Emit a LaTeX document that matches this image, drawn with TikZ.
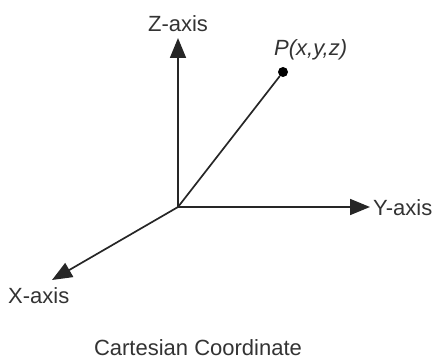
\documentclass[tikz,border=0pt]{standalone}
\usepackage{fontspec}
\setmainfont{Liberation Sans}
\usetikzlibrary{arrows.meta}
\begin{document}
\begin{tikzpicture}[x=1pt,y=-1pt,
  axis/.style={draw=black!85,line width=1.7pt,-{Triangle[length=20pt,width=16pt]}},
  lbl/.style={text=black!80,font=\fontsize{22}{26}\selectfont,inner sep=0pt},
  dot/.style={circle,fill=black,inner sep=0pt,minimum size=10pt}]
\useasboundingbox (0,0) rectangle (433,358);
\coordinate (O) at (178,207);
\coordinate (Z) at (178,38);
\coordinate (Y) at (370,207);
\coordinate (X) at (52,280);
\node[dot] (P) at (283,72) {};
\draw[axis] (O) -- (Z);
\draw[axis] (O) -- (Y);
\draw[axis] (O) -- (X);
\draw[draw=black!85,line width=1.7pt] (O) -- (P);
\node[lbl,anchor=base] (zl) at (178,32) {Z-axis};
\node[lbl,anchor=base west] (yl) at (373,215) {Y-axis};
\node[lbl,anchor=base west] (xl) at (8,303) {X-axis};
\node[lbl,anchor=base west] (pl) at (274,56) {\itshape P(x,y,z)};
\node[lbl,anchor=base] (cap) at (198,355) {Cartesian Coordinate};
\end{tikzpicture}
\end{document}
